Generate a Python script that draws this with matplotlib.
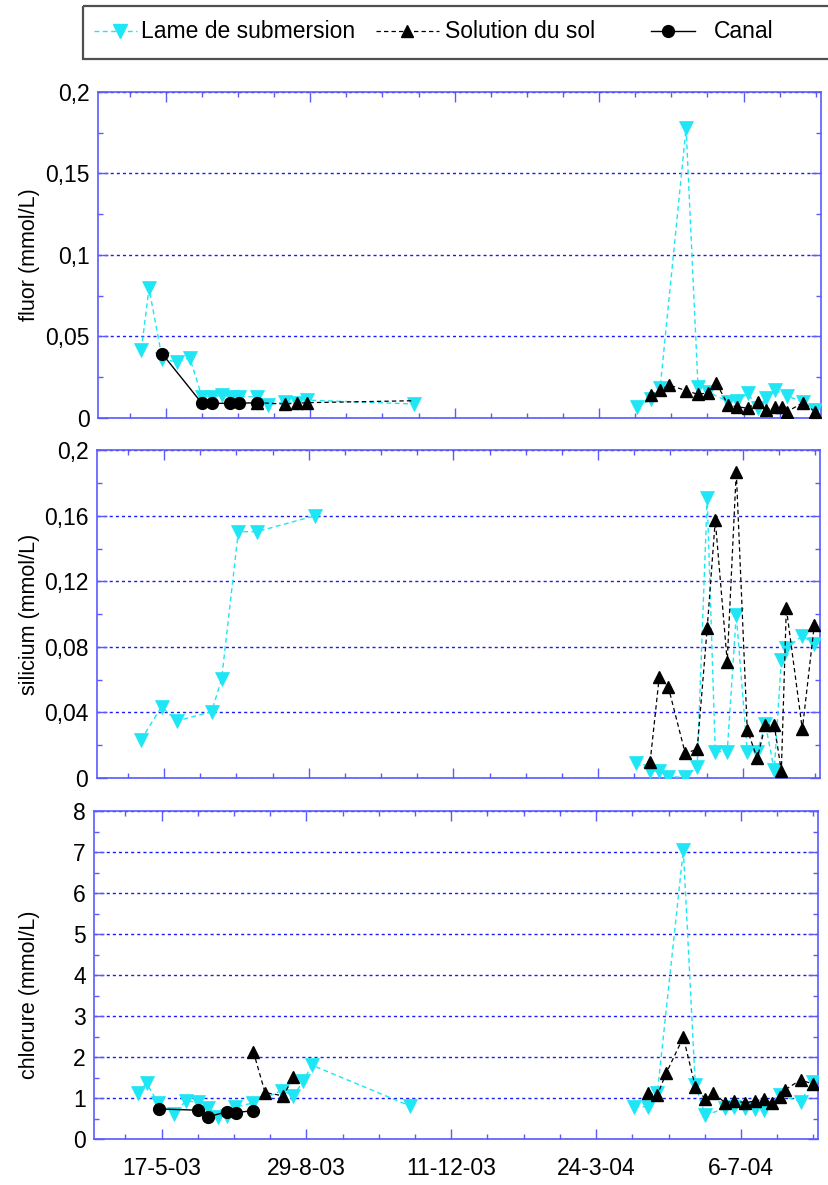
import numpy as np
import matplotlib
matplotlib.use("Agg")
import matplotlib.pyplot as plt
from matplotlib.ticker import MultipleLocator, FuncFormatter, FixedLocator
from matplotlib.patches import Rectangle
from matplotlib.lines import Line2D

plt.rcParams['font.family'] = ['Liberation Sans', 'DejaVu Sans']

# ---------------- data (x = days after 17-5-03) ----------------
tick_days = [0, 104, 208, 312, 416]
tick_labels = ['17-5-03', '29-8-03', '11-12-03', '24-3-04', '6-7-04']

# 2004 sampling dates
d04 = [339.4, 349.4, 355.9, 362.4, 374.6, 383.2, 390.4, 396.2, 404.8,
       411.3, 419.2, 426.4, 432.2, 438.6, 443.7, 447.3, 458.8, 467.4]

# --- fluor (mmol/L)
lame_f_x03 = [-17.5, -12.0, -2.4, 8.1, 17.3, 26.1, 33.3, 40.5, 47.3, 52.5,
              65.7, 73.6, 85.6, 94.5, 101.7, 178.4]
lame_f_y03 = [0.042, 0.0796, 0.036, 0.0345, 0.037, 0.013, 0.013, 0.014, 0.013,
              0.013, 0.013, 0.008, 0.010, 0.009, 0.011, 0.0086]
lame_f_i04 = [0, 1, 2, 4, 5, 6, 8, 9, 10, 11, 12, 13, 15, 16, 17]
lame_f_y04 = [0.0069, 0.0115, 0.0182, 0.178, 0.0192, 0.0161, 0.010, 0.0106,
              0.0151, 0.006, 0.0121, 0.0172, 0.0135, 0.010, 0.0049]
sol_f_x03 = [65.7, 85.6, 94.5, 101.7, 178.4]
sol_f_y03 = [0.0094, 0.0086, 0.009, 0.0094, 0.0106]
sol_f_y04 = [0.0141, 0.0172, 0.0202, 0.0168, 0.0145, 0.0155, 0.0217, 0.008,
             0.0069, 0.006, 0.010, 0.0049, 0.0069, 0.0069, 0.0039, 0.0094, 0.0039]
canal_f_x = [-2.4, 26.1, 33.3, 46.5, 52.5, 65.7]
canal_f_y = [0.0393, 0.009, 0.009, 0.009, 0.009, 0.0094]

# --- silicium (mmol/L)
lame_s_x03 = [-16.7, -1.9, 9.1, 34.1, 41.3, 53.3, 66.5, 108.4]
lame_s_y03 = [0.0231, 0.0434, 0.0347, 0.0404, 0.0603, 0.1503, 0.1503, 0.160]
lame_s_i04 = list(range(18))
lame_s_y04 = [0.0089, 0.0043, 0.004, 0.0007, 0.0003, 0.0068, 0.1707, 0.016,
              0.016, 0.0994, 0.016, 0.016, 0.033, 0.0048, 0.0719, 0.079,
              0.0868, 0.0817]
sol_s_x03 = []
sol_s_y03 = []
sol_s_y04 = [0.0098, 0.0614, 0.0556, 0.015, 0.0174, 0.0913, 0.1574, 0.0709,
             0.187, 0.0292, 0.0119, 0.0322, 0.0322, 0.0043, 0.1035, 0.0296, 0.0933]

# --- chlorure (mmol/L)
lame_c_x03 = [-16.8, -10.8, -2.4, 8.8, 17.5, 25.9, 33.5, 40.7, 46.8, 52.7,
              65.9, 86.3, 94.7, 101.9, 107.9, 178.6]
lame_c_y03 = [1.14, 1.37, 0.88, 0.62, 0.94, 0.90, 0.76, 0.54, 0.57, 0.78,
              0.89, 1.19, 1.06, 1.43, 1.81, 0.81]
lame_c_i04 = [0, 1, 2, 4, 5, 6, 8, 9, 10, 11, 12, 14, 16, 17]
lame_c_y04 = [0.795, 0.795, 1.12, 7.06, 1.32, 0.59, 0.756, 0.795, 0.756,
              0.73, 0.71, 1.08, 0.92, 1.40]
sol_c_x03 = [65.9, 74.3, 87.5, 94.7]
sol_c_y03 = [2.14, 1.14, 1.06, 1.53]
sol_c_y04 = [1.12, 1.08, 1.62, 2.49, 1.28, 0.98, 1.12, 0.89, 0.94, 0.89,
             0.94, 0.98, 0.88, 1.04, 1.20, 1.45, 1.35]
canal_c_x = [-1.9, 25.9, 33.5, 46.8, 53.2, 65.9]
canal_c_y = [0.74, 0.71, 0.55, 0.67, 0.65, 0.70]

# ---------------- styling ----------------
W, H = 829, 1185
CYAN = '#1EE6F4'
SPINE = '#5a5aff'
GRID = '#1a1aff'
FS = 16.5

fig = plt.figure(figsize=(W / 100, H / 100), dpi=100)


def add_axes_px(left, top, right, bottom):
    return fig.add_axes([left / W, 1 - bottom / H, (right - left) / W, (bottom - top) / H])


def seg(x03, y03, idx04, y04):
    x = list(x03)
    y = list(y03)
    if x03 and idx04:
        x.append(np.nan)
        y.append(np.nan)
    x += [d04[i] for i in idx04]
    y += list(y04)
    return np.array(x, dtype=float), np.array(y, dtype=float)


panels = [
    dict(box=(98.3, 92, 820.7, 418), ylim=(0, 0.2), major=0.05, minor=0.025,
         ylabel='fluor (mmol/L)', label_y=0.5,
         lame=seg(lame_f_x03, lame_f_y03, lame_f_i04, lame_f_y04),
         sol=seg(sol_f_x03, sol_f_y03, list(range(1, 18)), sol_f_y04),
         sol_hidden=[len(sol_f_x03) - 1],
         canal=(canal_f_x, canal_f_y)),
    dict(box=(96.7, 450.3, 820, 777.8), ylim=(0, 0.2), major=0.04, minor=0.02,
         ylabel='silicium (mmol/L)', label_y=0.5,
         lame=seg(lame_s_x03, lame_s_y03, lame_s_i04, lame_s_y04),
         sol=seg(sol_s_x03, sol_s_y03, list(range(1, 18)), sol_s_y04),
         sol_hidden=[],
         canal=None),
    dict(box=(94, 811.3, 818.3, 1139.3), ylim=(0, 8), major=1, minor=0.5,
         ylabel='chlorure (mmol/L)', label_y=0.44,
         lame=seg(lame_c_x03, lame_c_y03, lame_c_i04, lame_c_y04),
         sol=seg(sol_c_x03, sol_c_y03, list(range(1, 18)), sol_c_y04),
         sol_hidden=[],
         canal=(canal_c_x, canal_c_y)),
]

fmt = FuncFormatter(lambda v, p: ('%g' % round(v, 6)).replace('.', ','))

for k, P in enumerate(panels):
    l, t, r, b = P['box']
    ax = add_axes_px(l, t, r, b)
    ax.set_xlim(-48.5, 471.5)
    ax.set_ylim(*P['ylim'])

    lx, ly = P['lame']
    ax.plot(lx, ly, color=CYAN, lw=1.0, dashes=(3.5, 2.5), marker='v',
            ms=9.5, mfc=CYAN, mec=CYAN, mew=0.5, zorder=3)
    sx, sy = P['sol']
    if len(sx):
        keep = [i for i in range(len(sx)) if i not in P['sol_hidden']]
        ax.plot(sx, sy, color='black', lw=0.9, dashes=(3.5, 2.5), marker='^',
                ms=8.5, mfc='black', mec='black', markevery=keep, zorder=4)
    if P['canal'] is not None:
        cx, cy = P['canal']
        ax.plot(cx, cy, color='black', lw=1.0, ls='-', marker='o', ms=8.5,
                mfc='black', mec='black', zorder=5)

    ax.xaxis.set_major_locator(FixedLocator(tick_days))
    ax.xaxis.set_minor_locator(MultipleLocator(26))
    ax.yaxis.set_major_locator(MultipleLocator(P['major']))
    ax.yaxis.set_minor_locator(MultipleLocator(P['minor']))
    ax.yaxis.set_major_formatter(fmt)
    if k == 2:
        ax.set_xticklabels(tick_labels)
    else:
        ax.set_xticklabels([])

    ax.tick_params(which='both', direction='in', top=True, right=True,
                   color=SPINE, labelsize=FS)
    ax.tick_params(which='major', length=7, width=1)
    ax.tick_params(which='minor', length=3.5, width=1)
    ax.tick_params(axis='x', which='major', pad=13)
    ax.tick_params(axis='y', which='major', pad=6)
    for s in ax.spines.values():
        s.set_color(SPINE)
        s.set_linewidth(1.2)
    ax.yaxis.grid(True, which='major', color=GRID, lw=1.0, ls=(0, (2.2, 2.2)))
    ax.set_axisbelow(True)

    ax.set_ylabel(P['ylabel'], fontsize=15.5)
    ax.yaxis.set_label_coords((40 - l) / (r - l), P['label_y'])

# ---------------- legend (drawn in figure pixel coordinates) ----------------
ov = fig.add_axes([0, 0, 1, 1], zorder=10)
ov.set_xlim(0, W)
ov.set_ylim(H, 0)
ov.axis('off')
ov.add_patch(Rectangle((83, 5.5), 780, 53, fill=False, edgecolor='#505050',
                       lw=1.6, clip_on=False))
ly = 31
ov.add_line(Line2D([94, 137], [ly, ly], color=CYAN, lw=1.0, dashes=(3.5, 2.5)))
ov.plot([120], [ly], marker='v', ms=9.5, color=CYAN)
ov.text(141, ly, 'Lame de submersion', fontsize=FS, va='center', ha='left')
ov.add_line(Line2D([376, 439], [ly, ly], color='black', lw=0.9, dashes=(3.5, 2.5)))
ov.plot([407], [ly], marker='^', ms=8.5, color='black')
ov.text(445, ly, 'Solution du sol', fontsize=FS, va='center', ha='left')
ov.add_line(Line2D([651, 695], [ly, ly], color='black', lw=1.0))
ov.plot([668], [ly], marker='o', ms=8.5, color='black')
ov.text(714, ly, 'Canal', fontsize=FS, va='center', ha='left')

fig.savefig('out.png', dpi=100)
